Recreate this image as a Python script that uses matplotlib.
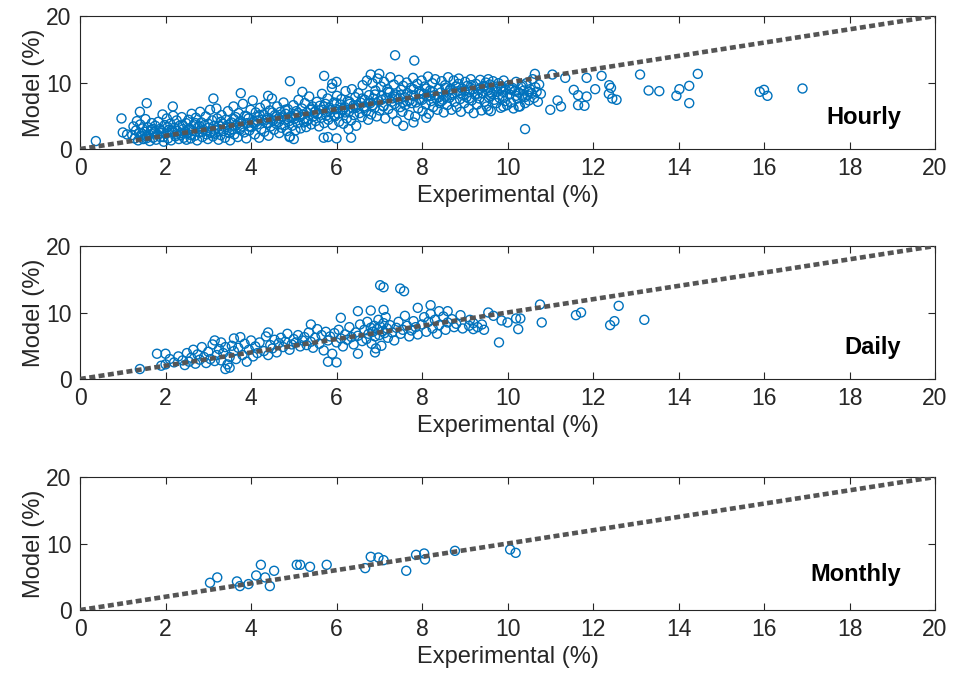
import matplotlib.pyplot as plt
import numpy as np

plt.rcParams['font.family'] = ['Liberation Sans', 'DejaVu Sans']

# hourly data (experimental %, model %)
hourly_1to2 = [(1.22, 2.1), (1.25, 3.4), (1.28, 1.6), (1.31, 2.8), (1.33, 4.2), (1.36, 1.3), (1.38, 2.4), (1.41, 3.7),
               (1.43, 2.0), (1.46, 3.1), (1.48, 1.5), (1.51, 2.6), (1.53, 4.5), (1.56, 1.9), (1.58, 3.3), (1.61, 2.2),
               (1.63, 1.2), (1.66, 2.9), (1.68, 3.9), (1.71, 1.7), (1.73, 2.5), (1.76, 3.5), (1.78, 1.4), (1.81, 2.2),
               (1.83, 4.1), (1.86, 3.0), (1.88, 1.8), (1.91, 2.7), (1.93, 5.2), (1.96, 1.1), (1.98, 3.6), (2.01, 2.3),
               (2.03, 4.6), (2.06, 1.6), (2.08, 2.9), (2.11, 3.8), (2.13, 1.3), (2.16, 2.5), (2.18, 5.0), (2.21, 3.2),
               (2.23, 1.9), (2.26, 4.3), (2.28, 2.7), (2.31, 1.5), (2.33, 3.5), (2.36, 2.1), (2.38, 4.8), (2.41, 3.0),
               (2.43, 1.7), (2.46, 2.6), (2.48, 3.9), (2.49, 1.4)]
hourly_2to4 = [(2.51, 2.3), (2.54, 4.4), (2.56, 3.1), (2.59, 1.6), (2.61, 5.3), (2.64, 2.7), (2.66, 3.7), (2.69, 2.0),
               (2.71, 4.7), (2.74, 1.3), (2.76, 3.3), (2.79, 2.5), (2.81, 5.6), (2.84, 4.0), (2.86, 1.8), (2.89, 2.9),
               (2.91, 3.6), (2.94, 4.9), (2.96, 2.2), (2.99, 1.5), (3.01, 3.2), (3.04, 5.9), (3.06, 2.6), (3.09, 4.3),
               (3.11, 1.9), (3.14, 3.5), (3.16, 2.3), (3.19, 6.1), (3.21, 4.6), (3.24, 1.4), (3.26, 3.0), (3.29, 2.1),
               (3.31, 5.1), (3.34, 3.8), (3.36, 2.7), (3.39, 1.7), (3.41, 4.4), (3.44, 3.3), (3.46, 5.7), (3.49, 2.4),
               (3.51, 1.3), (3.54, 4.0), (3.56, 3.0), (3.59, 6.4), (3.61, 2.2), (3.64, 4.8), (3.66, 3.6), (3.69, 1.8),
               (3.71, 5.4), (3.74, 2.9), (3.76, 4.2), (3.79, 3.4), (3.81, 6.8), (3.84, 2.5), (3.86, 5.0), (3.89, 1.6),
               (3.91, 3.9), (3.94, 4.6), (3.96, 2.8), (3.99, 5.9)]
hourly_4to5 = [(4.01, 3.3), (4.04, 7.3), (4.06, 4.1), (4.09, 2.2), (4.11, 5.5), (4.14, 3.7), (4.16, 4.8), (4.19, 1.7),
               (4.21, 6.2), (4.24, 3.0), (4.26, 4.4), (4.29, 5.2), (4.31, 2.6), (4.34, 6.7), (4.36, 3.9), (4.39, 4.7),
               (4.41, 2.0), (4.44, 5.8), (4.46, 3.4), (4.49, 7.6), (4.51, 4.3), (4.54, 2.9), (4.56, 5.1), (4.59, 3.8),
               (4.61, 6.4), (4.64, 4.6), (4.66, 2.4), (4.69, 5.6), (4.71, 3.2), (4.74, 4.9), (4.76, 7.0), (4.79, 3.6),
               (4.81, 5.3), (4.84, 2.7), (4.86, 6.0), (4.89, 4.2), (4.91, 1.9), (4.94, 5.0), (4.96, 3.5), (4.99, 6.6),
               (5.01, 4.5), (5.04, 2.8), (5.06, 5.7), (5.09, 3.9), (5.11, 7.4), (5.14, 4.8), (5.16, 3.1), (5.19, 6.1),
               (5.21, 5.2), (5.24, 4.0), (5.26, 6.9), (5.29, 3.3), (5.31, 5.5), (5.34, 4.4), (5.36, 7.9), (5.39, 5.9),
               (5.41, 3.7), (5.44, 6.4), (5.46, 4.9), (5.49, 5.6)]
hourly_5to7 = [(5.51, 4.2), (5.54, 7.1), (5.56, 5.3), (5.59, 3.4), (5.61, 6.5), (5.64, 4.7), (5.66, 8.3), (5.69, 5.9),
               (5.71, 3.9), (5.74, 6.8), (5.76, 5.0), (5.79, 7.6), (5.81, 4.4), (5.84, 6.2), (5.86, 5.5), (5.89, 9.2),
               (5.91, 3.6), (5.94, 7.0), (5.96, 4.9), (5.99, 6.0), (6.01, 8.0), (6.04, 5.3), (6.06, 4.1), (6.09, 6.7),
               (6.11, 7.5), (6.14, 5.8), (6.16, 3.8), (6.19, 6.3), (6.21, 8.7), (6.24, 4.6), (6.26, 7.2), (6.29, 5.6),
               (6.31, 6.8), (6.34, 4.3), (6.36, 9.0), (6.39, 6.1), (6.41, 5.1), (6.44, 7.8), (6.46, 3.5), (6.49, 6.6),
               (6.51, 8.4), (6.54, 5.4), (6.56, 7.0), (6.59, 4.8), (6.61, 9.6), (6.64, 6.4), (6.66, 7.4), (6.69, 5.7),
               (6.71, 10.3), (6.74, 4.4), (6.76, 8.1), (6.79, 6.9), (6.81, 5.2), (6.84, 9.9), (6.86, 7.6), (6.89, 6.2),
               (6.91, 8.8), (6.94, 4.9), (6.96, 10.6), (6.99, 7.2)]
hourly_7to8 = [(7.01, 5.8), (7.04, 9.4), (7.06, 8.0), (7.09, 6.5), (7.11, 10.1), (7.14, 4.6), (7.16, 7.7), (7.19, 9.0),
               (7.21, 6.0), (7.24, 8.5), (7.26, 10.8), (7.29, 7.1), (7.31, 5.3), (7.34, 9.7), (7.36, 6.8), (7.39, 8.2),
               (7.41, 4.2), (7.44, 7.5), (7.46, 10.4), (7.49, 6.3), (7.51, 8.9), (7.54, 5.6), (7.56, 9.5), (7.59, 7.8),
               (7.61, 6.6), (7.64, 10.0), (7.66, 8.4), (7.69, 5.1), (7.71, 7.3), (7.74, 9.2), (7.76, 6.9), (7.79, 10.7),
               (7.81, 8.0), (7.84, 4.9), (7.86, 7.0), (7.89, 9.8), (7.91, 6.1), (7.94, 8.7), (7.96, 7.5), (7.99, 10.3),
               (8.01, 5.7), (8.04, 8.3), (8.06, 9.4), (8.09, 6.7), (8.11, 7.9), (8.14, 10.9), (8.16, 5.3), (8.19, 8.8),
               (8.21, 7.2), (8.24, 9.9), (8.26, 6.3), (8.29, 8.1), (8.31, 10.5), (8.34, 7.6), (8.36, 5.9), (8.39, 9.1),
               (8.41, 6.9), (8.44, 8.5), (8.46, 10.2), (8.49, 7.4)]
hourly_8to11 = [(8.51, 5.5), (8.54, 9.6), (8.56, 8.0), (8.59, 6.6), (8.61, 10.8), (8.64, 7.7), (8.66, 9.0), (8.69, 5.9),
                (8.71, 8.4), (8.74, 10.3), (8.76, 7.1), (8.79, 9.4), (8.81, 6.3), (8.84, 8.7), (8.86, 10.6), (8.89, 7.5),
                (8.91, 5.6), (8.94, 9.1), (8.96, 8.1), (8.99, 6.9), (9.01, 10.1), (9.04, 7.8), (9.06, 9.5), (9.09, 6.1),
                (9.11, 8.6), (9.14, 10.5), (9.16, 7.3), (9.19, 9.0), (9.21, 5.4), (9.24, 8.2), (9.26, 9.8), (9.29, 6.7),
                (9.31, 8.9), (9.34, 7.6), (9.36, 10.4), (9.39, 5.8), (9.41, 8.4), (9.44, 9.3), (9.46, 7.1), (9.49, 10.0),
                (9.51, 6.4), (9.54, 8.8), (9.56, 7.8), (9.59, 9.7), (9.61, 5.7), (9.64, 8.3), (9.66, 10.2), (9.69, 7.4),
                (9.71, 9.1), (9.74, 6.9), (9.76, 8.6), (9.79, 9.9), (9.81, 7.7), (9.84, 6.2), (9.86, 9.4), (9.89, 8.0),
                (9.91, 10.3), (9.94, 7.2), (9.96, 8.9), (9.99, 6.6), (10.02, 9.6), (10.05, 8.2), (10.08, 7.0),
                (10.11, 9.2), (10.14, 6.1), (10.17, 8.7), (10.2, 10.1), (10.23, 7.6), (10.26, 8.5), (10.29, 6.4),
                (10.32, 9.4), (10.35, 7.9), (10.38, 8.8), (10.41, 6.9), (10.44, 9.9), (10.47, 8.1), (10.5, 7.3),
                (10.53, 9.0), (10.56, 8.4), (10.59, 10.5), (10.62, 7.7), (10.65, 9.3), (10.68, 8.6), (10.71, 7.1),
                (10.74, 9.7), (10.78, 8.3)]
hourly_core = [(1.45, 2.3), (1.7, 3.0), (1.9, 2.4), (2.05, 3.3), (2.25, 2.2), (2.4, 3.6), (2.55, 2.9), (2.7, 3.9),
               (2.85, 2.6), (3.0, 3.8), (3.15, 2.9), (3.3, 4.1), (3.45, 3.6), (3.6, 4.5), (3.75, 3.2), (3.9, 4.9),
               (4.05, 3.9), (4.2, 5.1), (4.35, 4.4), (4.5, 5.5), (4.65, 4.1), (4.8, 5.9), (4.95, 4.7), (5.1, 5.4),
               (5.25, 4.6), (5.4, 6.1), (5.55, 5.2), (5.7, 6.4), (5.85, 5.9), (6.0, 6.9), (6.15, 6.0), (6.3, 7.1),
               (6.45, 6.2), (6.6, 7.6), (6.75, 7.0), (6.9, 8.2), (7.05, 7.4), (7.2, 8.6), (7.35, 7.9), (7.5, 8.1),
               (7.65, 7.2), (7.8, 9.0), (7.95, 8.3), (8.1, 9.1), (8.25, 8.6), (8.4, 7.8), (8.55, 9.2), (8.7, 8.1),
               (8.85, 9.8), (9.0, 8.8), (9.15, 9.6), (9.3, 8.3), (9.45, 9.5), (9.6, 8.5), (9.75, 9.4), (9.9, 8.6),
               (10.05, 9.0), (10.2, 8.0), (10.35, 9.6), (10.5, 8.6), (1.55, 1.6), (1.75, 2.6), (1.95, 1.8),
               (2.15, 2.8), (2.35, 2.4), (2.6, 2.1), (2.8, 3.4), (3.05, 2.4), (3.25, 3.5), (3.5, 2.8), (3.7, 3.9),
               (3.95, 3.4), (4.15, 4.3), (4.4, 3.9), (4.6, 4.9), (4.85, 4.5), (5.05, 5.1), (5.3, 4.2), (5.5, 5.6),
               (5.75, 5.5), (5.95, 5.1), (6.2, 5.5), (6.4, 6.6), (6.65, 6.2), (6.85, 6.6), (7.1, 6.4), (7.3, 7.6),
               (7.55, 7.0), (7.75, 8.1), (8.0, 7.4), (8.2, 8.0), (8.45, 7.2), (8.65, 8.8), (8.9, 8.4), (9.1, 7.6),
               (9.35, 9.1), (9.6, 8.0), (9.85, 9.1), (10.1, 8.9), (10.4, 7.8)]
hourly_outliers = [(0.37, 1.2), (0.97, 4.6), (1.0, 2.5), (1.1, 2.2), (1.4, 5.6), (1.56, 6.9), (2.17, 6.4), (3.12, 7.6),
                   (3.76, 8.4), (4.4, 8.0), (4.91, 10.2), (5.2, 8.6), (5.71, 11.0), (5.9, 9.8), (6.0, 10.1),
                   (7.37, 14.1), (7.82, 13.3), (6.8, 11.2), (7.0, 11.3), (4.9, 1.8), (5.0, 1.5), (5.7, 1.7),
                   (5.8, 1.8), (6.0, 1.6), (6.34, 1.7), (6.28, 3.0), (7.56, 3.5), (7.8, 4.0), (8.1, 4.7),
                   (10.41, 3.0), (11.0, 5.9), (11.25, 6.4), (11.17, 7.3), (10.64, 11.3), (11.05, 11.2),
                   (11.35, 10.7), (11.55, 8.9), (11.65, 8.1), (11.65, 6.6), (11.8, 6.5), (11.85, 7.9),
                   (11.85, 10.7), (12.05, 9.0), (12.2, 11.0), (12.38, 9.6), (12.42, 9.2), (12.37, 8.3),
                   (12.45, 7.6), (12.55, 7.4), (13.1, 11.2), (13.3, 8.8), (13.55, 8.7), (13.95, 8.0),
                   (14.02, 9.0), (14.25, 9.5), (14.25, 6.9), (14.45, 11.3), (15.9, 8.6), (16.0, 8.9),
                   (16.08, 8.0), (16.9, 9.1), (9.55, 5.9), (9.9, 6.4), (10.26, 6.4), (9.55, 10.5)]

# daily data
daily_2to4 = [(1.4, 1.5), (1.8, 3.8), (2.0, 3.8), (1.9, 2.0), (2.0, 2.2), (2.1, 3.0), (2.2, 2.5), (2.3, 3.4), (2.4, 2.8),
              (2.45, 2.1), (2.5, 3.9), (2.55, 2.6), (2.6, 3.2), (2.65, 4.4), (2.7, 2.3), (2.75, 3.7), (2.8, 2.9),
              (2.85, 4.8), (2.9, 3.3), (2.95, 2.4), (3.0, 4.1), (3.05, 3.0), (3.1, 5.2), (3.15, 2.7), (3.2, 3.6),
              (3.25, 4.5), (3.3, 2.8), (3.35, 3.9), (3.4, 4.8), (3.45, 2.2), (3.5, 3.3), (3.55, 5.0), (3.6, 4.2),
              (3.65, 3.0), (3.7, 4.7), (3.75, 6.3), (3.8, 3.6), (3.85, 5.3), (3.9, 2.6), (3.95, 4.4), (3.6, 6.1),
              (3.3, 5.5), (3.15, 5.8), (3.4, 1.5), (3.5, 1.7)]
daily_4to6 = [(4.0, 5.8), (4.05, 3.4), (4.1, 4.9), (4.15, 3.9), (4.2, 5.5), (4.3, 4.2), (4.35, 6.4), (4.4, 3.6),
              (4.45, 5.1), (4.5, 4.6), (4.55, 5.9), (4.6, 4.0), (4.65, 5.4), (4.7, 6.2), (4.75, 4.8), (4.8, 5.6),
              (4.85, 6.8), (4.9, 4.4), (4.95, 5.2), (5.0, 6.0), (5.05, 5.5), (5.1, 6.6), (5.15, 4.9), (5.2, 5.8),
              (5.25, 6.3), (5.3, 5.1), (5.35, 7.0), (5.4, 5.6), (5.45, 4.7), (5.5, 6.2), (5.55, 7.5), (5.6, 5.3),
              (5.65, 6.6), (5.7, 4.3), (5.75, 7.1), (5.8, 5.8), (5.85, 6.4), (5.9, 3.8), (5.95, 6.9), (4.4, 7.0),
              (5.4, 8.2), (5.8, 2.6), (6.0, 2.5)]
daily_6to8 = [(6.0, 5.5), (6.05, 7.4), (6.1, 6.1), (6.15, 4.9), (6.2, 6.7), (6.25, 5.9), (6.3, 7.8), (6.35, 6.3),
              (6.4, 5.2), (6.45, 7.0), (6.5, 6.5), (6.55, 8.2), (6.6, 5.7), (6.65, 7.4), (6.7, 6.0), (6.72, 8.6),
              (6.75, 6.8), (6.8, 7.7), (6.82, 5.3), (6.85, 7.1), (6.88, 8.0), (6.9, 6.4), (6.92, 4.6), (6.95, 7.5),
              (6.98, 8.9), (7.0, 6.6), (7.02, 7.9), (7.05, 5.0), (7.08, 7.2), (7.1, 8.4), (7.12, 6.9), (7.15, 9.3),
              (7.18, 7.6), (7.2, 6.2), (7.25, 8.1), (7.3, 7.0), (7.35, 5.8), (7.4, 7.7), (7.45, 8.6), (7.5, 6.8),
              (7.55, 7.4), (7.6, 9.5), (7.65, 8.0), (7.7, 6.4), (7.75, 7.3), (7.8, 8.7), (7.85, 7.8), (7.9, 6.7),
              (7.02, 14.1), (7.1, 13.8), (7.49, 13.6), (7.58, 13.2), (6.5, 10.2), (6.8, 10.3), (7.1, 10.4),
              (6.1, 9.2), (6.5, 3.8), (6.9, 4.0)]
daily_8to14 = [(8.0, 8.2), (8.05, 9.3), (8.1, 7.1), (8.15, 8.6), (8.2, 9.8), (8.25, 7.6), (8.3, 8.9), (8.35, 6.8),
               (8.4, 8.1), (8.5, 9.4), (8.55, 7.4), (8.6, 8.5), (8.7, 9.0), (8.75, 7.8), (8.8, 8.3), (8.9, 9.6),
               (8.95, 7.6), (7.9, 10.7), (8.2, 11.1), (8.4, 10.2), (8.6, 10.2), (9.1, 8.0), (9.2, 7.5), (9.3, 7.8),
               (9.4, 8.2), (9.45, 7.4), (9.2, 8.4), (9.12, 8.9), (9.55, 10.0), (9.67, 9.5), (9.86, 8.8), (9.8, 5.5),
               (10.0, 8.5), (10.2, 9.1), (10.3, 9.1), (10.25, 7.5), (10.76, 11.2), (10.8, 8.5), (11.6, 9.6),
               (11.72, 10.0), (12.4, 8.1), (12.5, 8.7), (12.6, 11.0), (13.2, 8.9)]

# monthly data
monthly_exp = [3.04, 3.21, 3.67, 3.74, 3.94, 4.12, 4.23, 4.33, 4.44, 4.54, 5.07, 5.15, 5.38,
               5.77, 6.67, 6.8, 6.98, 7.1, 7.63, 7.86, 8.05, 8.07, 8.77, 10.06, 10.19]
monthly_mod = [4.1, 4.9, 4.3, 3.6, 3.9, 5.2, 6.8, 4.9, 3.6, 5.9, 6.8, 6.8, 6.5,
               6.8, 6.3, 8.0, 7.9, 7.5, 5.9, 8.3, 8.5, 7.6, 8.9, 9.1, 8.6]

hourly = np.array(hourly_1to2 + hourly_2to4 + hourly_4to5 + hourly_5to7 + hourly_7to8 + hourly_8to11
                  + hourly_core + hourly_outliers)
daily = np.array(daily_2to4 + daily_4to6 + daily_6to8 + daily_8to14)
monthly = np.column_stack([monthly_exp, monthly_mod])

panels = [("Hourly", hourly, 4.7), ("Daily", daily, 4.8), ("Monthly", monthly, 5.4)]
tops = [0.9768, 0.6435, 0.3087]

fig = plt.figure(figsize=(9.55, 6.9), dpi=100)
for (name, pts, ty), top in zip(panels, tops):
    ax = fig.add_axes([0.0838, top - 0.1928, 0.8953, 0.1928])
    ax.scatter(pts[:, 0], pts[:, 1], s=42, facecolors='none', edgecolors='#0072BD', linewidths=1.0, zorder=2)
    ax.plot([0, 20], [0, 20], color='#555555', lw=3.3, linestyle=(0, (1.3, 0.75)), zorder=3)
    ax.set_xlim(0, 20)
    ax.set_ylim(0, 20)
    ax.set_xticks(np.arange(0, 21, 2))
    ax.set_yticks([0, 10, 20])
    ax.tick_params(direction='in', top=True, right=True, length=5, width=0.8,
                   labelsize=16.5, colors='#262626', pad=6)
    for sp in ax.spines.values():
        sp.set_color('#262626')
        sp.set_linewidth(0.8)
    ax.set_xlabel('Experimental (%)', fontsize=17, color='#262626', labelpad=3)
    ax.set_ylabel('Model (%)', fontsize=17, color='#262626', labelpad=1)
    ax.text(19.2, ty, name, fontsize=17, fontweight='bold', ha='right', va='center')

fig.savefig('out.png', dpi=100)
